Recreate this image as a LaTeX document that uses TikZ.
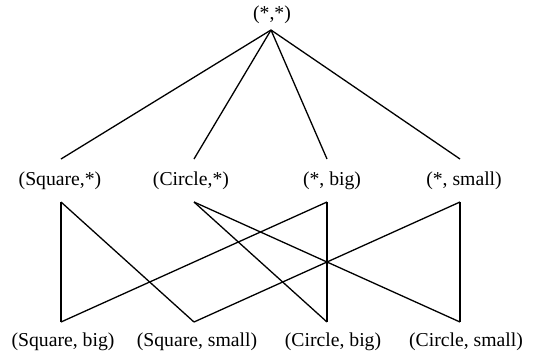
\documentclass[tikz,border=0pt]{standalone}
\usepackage{fontspec}
\setmainfont{Liberation Serif}
\begin{document}
\begin{tikzpicture}[x=1pt,y=-1pt,
  lab/.style={inner sep=0pt, font=\fontsize{19.7}{22}\selectfont},
  edge/.style={line width=1.3pt, line join=miter}]
\useasboundingbox (0,0) rectangle (543,360);
% labels
\node[lab] (top) at (272,15) {(*,*)};
\node[lab] (sqs) at (60,181) {(Square,*)};
\node[lab] (cis) at (191,181) {(Circle,*)};
\node[lab] (sbig) at (332,181) {(*, big)};
\node[lab] (ssmall) at (464,181) {(*, small)};
\node[lab] (sqb) at (63,342) {(Square, big)};
\node[lab] (sqsm) at (197,342) {(Square, small)};
\node[lab] (cib) at (333,342) {(Circle, big)};
\node[lab] (cism) at (466,342) {(Circle, small)};
% anchor points
\coordinate (apex) at (271,30);
\coordinate (sqsU) at (61,159);
\coordinate (cisU) at (194,159);
\coordinate (sbigU) at (327,159);
\coordinate (ssmallU) at (460,159);
\coordinate (sqsD) at (61,202);
\coordinate (cisD) at (194,202);
\coordinate (sbigD) at (327,202);
\coordinate (ssmallD) at (460,202);
\coordinate (sqbU) at (61,322);
\coordinate (sqsmU) at (194,322);
\coordinate (cibU) at (327,322);
\coordinate (cismU) at (460,322);
% upper edges
\draw[edge] (apex) -- (sqsU);
\draw[edge] (apex) -- (cisU);
\draw[edge] (apex) -- (sbigU);
\draw[edge] (apex) -- (ssmallU);
% lower edges
\draw[edge] (sqsD) -- (sqbU);
\draw[edge] (sqsD) -- (sqsmU);
\draw[edge] (cisD) -- (cibU);
\draw[edge] (cisD) -- (cismU);
\draw[edge] (sbigD) -- (sqbU);
\draw[edge] (sbigD) -- (cibU);
\draw[edge] (ssmallD) -- (sqsmU);
\draw[edge] (ssmallD) -- (cismU);
\end{tikzpicture}
\end{document}
